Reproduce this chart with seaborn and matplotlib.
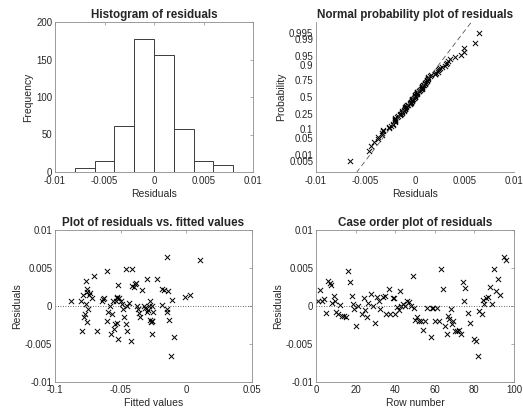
import numpy as np
import pandas as pd
import matplotlib
matplotlib.use("Agg")
import matplotlib.pyplot as plt
import seaborn as sns
from statistics import NormalDist

# ---------------- data ----------------
hist_edges = [-0.008, -0.006, -0.004, -0.002, 0.0, 0.002, 0.004, 0.006, 0.008]
hist_counts = [5, 15, 62, 177, 156, 57, 15, 10]

case_rows = [1, 2, 3, 4, 5, 6, 7, 7.5, 8, 9, 9.5, 10, 11, 12, 13, 14, 15, 16, 17, 18, 18.5, 19,
             20, 21, 23, 24, 24.5, 26, 26.5, 28, 29, 30, 31, 32, 32.5, 34, 35, 35.5, 37, 37.5,
             39, 39.5, 40, 41, 42, 42.5, 43, 44, 45, 46, 47, 48, 49, 49.5, 50, 51, 52, 53, 54,
             55, 56, 58, 58.5, 59, 60, 61, 62, 63, 64, 65, 66, 66.5, 67, 68, 68.5, 69, 70, 71,
             72, 73, 74, 74.5, 75, 77, 78, 80, 81, 82, 82.5, 84, 84.5, 85, 86, 87, 88, 89, 90,
             91, 92, 93, 95, 96]
case_resid = [0.0007, 0.0021, 0.0007, 0.0009, -0.0009, 0.0033, 0.0030, 0.0027, 0.0004, 0.0013,
              0.0006, -0.0008, -0.0011, 0.0001, -0.0013, -0.0013, -0.0014, 0.0046, 0.0032, 0.0013,
              0.0002, -0.0004, -0.0026, 0.0000, -0.0011, 0.0011, -0.0005, -0.0015, 0.0004, 0.0016,
              0.0000, -0.0022, 0.0012, 0.0007, -0.0004, 0.0012, 0.0013, -0.0010, 0.0023, -0.0010,
              0.0010, 0.0010, -0.0010, -0.0001, -0.0005, 0.0020, 0.0000, 0.0002, 0.0000, 0.0007,
              0.0005, 0.0000, 0.0040, -0.0002, -0.0018, -0.0015, -0.0020, -0.0020, -0.0032,
              -0.0020, -0.0003, -0.0041, -0.0003, -0.0003, -0.0020, -0.0003, -0.0020, 0.0049,
              0.0023, -0.0026, -0.0037, -0.0013, -0.0017, -0.0004, -0.0024, -0.0020, -0.0033,
              -0.0033, -0.0032, -0.0037, 0.0031, 0.0007, 0.0024, -0.0009, -0.0022, -0.0044,
              -0.0046, -0.0066, -0.0007, -0.0010, 0.0008, 0.0002, 0.0010, 0.0012, 0.0025, 0.0002,
              0.0049, 0.0020, 0.0035, 0.0015, 0.0065, 0.0061]

fit_x = [-0.0878, -0.0802, -0.0792, -0.0785, -0.0780, -0.0772, -0.0764, -0.0764, -0.0760,
         -0.0754, -0.0754, -0.0747, -0.0742, -0.0734, -0.0716, -0.0701, -0.0678, -0.0645,
         -0.0633, -0.0628, -0.0602, -0.0607, -0.0595, -0.0582, -0.0574, -0.0564, -0.0557,
         -0.0552, -0.0544, -0.0539, -0.0531, -0.0531, -0.0526, -0.0519, -0.0519, -0.0511,
         -0.0501, -0.0493, -0.0486, -0.0476, -0.0463, -0.0460, -0.0455, -0.0450, -0.0438,
         -0.0422, -0.0410, -0.0410, -0.0400, -0.0392, -0.0384, -0.0374, -0.0367, -0.0359,
         -0.0349, -0.0334, -0.0324, -0.0311, -0.0303, -0.0298, -0.0291, -0.0286, -0.0278,
         -0.0273, -0.0270, -0.0265, -0.0265, -0.0265, -0.0258, -0.0253, -0.0222, -0.0189,
         -0.0184, -0.0172, -0.0151, -0.0151, -0.0144, -0.0139, -0.0131, -0.0118, -0.0108,
         -0.0096, -0.0012, 0.0031, 0.0102]
fit_resid = [0.0007, 0.0006, -0.0033, 0.0014, -0.0014, -0.0011, 0.0033, 0.0002, 0.0023,
             0.0019, -0.0021, -0.0004, 0.0014, 0.0017, 0.0011, 0.0040, -0.0033, 0.0007,
             0.0009, 0.0010, 0.0046, -0.0020, -0.0008, 0.0000, -0.0037, -0.0010, 0.0007,
             -0.0030, -0.0024, 0.0007, 0.0011, -0.0023, 0.0012, 0.0028, -0.0044, 0.0010,
             0.0007, 0.0002, -0.0004, -0.0015, 0.0049, -0.0024, -0.0033, 0.0000, 0.0004,
             -0.0046, 0.0026, 0.0049, 0.0025, 0.0029, 0.0030, 0.0000, -0.0004, -0.0009,
             -0.0015, 0.0021, 0.0000, -0.0002, 0.0035, -0.0008, -0.0005, 0.0000, -0.0018,
             0.0007, -0.0021, -0.0020, -0.0037, 0.0000, -0.0020, -0.0008, 0.0036, 0.0023,
             0.0001, 0.0021, 0.0065, -0.0004, -0.0008, 0.0020, -0.0019, -0.0066, 0.0008,
             -0.0041, 0.0012, 0.0015, 0.0061]

prob_ticks = [0.005, 0.01, 0.05, 0.1, 0.25, 0.5, 0.75, 0.9, 0.95, 0.99, 0.995]
prob_labels = ["0.005", "0.01", "0.05", "0.1", "0.25", "0.5", "0.75", "0.9", "0.95", "0.99", "0.995"]
resid_ticks = [-0.01, -0.005, 0, 0.005, 0.01]
resid_labels = ["-0.01", "-0.005", "0", "0.005", "0.01"]

# ---------------- style ----------------
sns.set_theme(style="white")
plt.rcParams["font.family"] = ["Liberation Sans", "DejaVu Sans"]
plt.rcParams["xtick.direction"] = "in"
plt.rcParams["ytick.direction"] = "in"

SPINE = "#8c8c8c"
TXT = "#262626"
TICK_FS = 6.9
LAB_FS = 7.5
TITLE_FS = 8.4

fig = plt.figure(figsize=(5.23, 4.13), dpi=100)
W, H = 523, 413


def add_ax(l, t, r, b):
    return fig.add_axes([l / W, 1 - b / H, (r - l) / W, (b - t) / H])


def style(ax, box=True):
    for s in ["left", "bottom", "top", "right"]:
        ax.spines[s].set_color(SPINE)
        ax.spines[s].set_linewidth(0.6)
    if not box:
        ax.spines["top"].set_visible(False)
        ax.spines["right"].set_visible(False)
    ax.tick_params(axis="both", which="both", length=2.5, width=0.5, color=SPINE,
                   labelsize=TICK_FS, labelcolor=TXT, pad=2, top=box, right=box)


# ---- histogram ----
ax1 = add_ax(55, 22, 253, 172)
hdf = pd.DataFrame({"left": hist_edges[:-1], "count": hist_counts})
hdf["mid"] = hdf["left"] + np.diff(hist_edges) / 2
sns.histplot(x=hdf["mid"], weights=hdf["count"], bins=hist_edges, ax=ax1,
             color="white", edgecolor="#3a3a3a", linewidth=0.7, alpha=1)
ax1.set_xlim(-0.01, 0.01)
ax1.set_ylim(0, 200)
ax1.set_xticks(resid_ticks, resid_labels)
ax1.set_yticks([0, 50, 100, 150, 200])
ax1.set_xlabel("Residuals", fontsize=LAB_FS, color=TXT, labelpad=2)
ax1.set_ylabel("Frequency", fontsize=LAB_FS, color=TXT, labelpad=2)
ax1.set_title("Histogram of residuals", fontsize=TITLE_FS, fontweight="bold", pad=3)
style(ax1)
ax1.tick_params(axis="x", pad=3)

# ---- normal probability plot ----
ax2 = add_ax(316, 22, 514, 172)
nd = NormalDist()
r_sorted = np.sort(np.array(case_resid))
n = len(r_sorted)
zq = np.array([nd.inv_cdf((i - 0.5) / n) for i in range(1, n + 1)])
q25, q75 = np.quantile(r_sorted, [0.25, 0.75])
z25, z75 = nd.inv_cdf(0.25), nd.inv_cdf(0.75)
slope = (z75 - z25) / (q75 - q25)
xl = np.array([-0.01, 0.01])
yl = z25 + slope * (xl - q25)
ax2.plot(xl, yl, linestyle=(0, (6, 4)), color="#555555", linewidth=0.6)
sns.scatterplot(x=r_sorted, y=zq, ax=ax2, marker="x", color="black", s=14, linewidth=0.7)
ax2.set_xlim(-0.01, 0.01)
ax2.set_ylim(-3.03, 3.03)
ax2.set_xticks(resid_ticks, resid_labels)
ax2.set_yticks([nd.inv_cdf(p) for p in prob_ticks], prob_labels)
ax2.set_xlabel("Residuals", fontsize=LAB_FS, color=TXT, labelpad=2)
ax2.set_ylabel("Probability", fontsize=LAB_FS, color=TXT, labelpad=2)
ax2.set_title("Normal probability plot of residuals", fontsize=TITLE_FS, fontweight="bold", pad=3)
style(ax2, box=False)
ax2.tick_params(axis="x", pad=3)

# ---- residuals vs fitted ----
ax3 = add_ax(55, 230, 252, 382)
ax3.axhline(0, color="#333333", linestyle=(0, (1, 2)), linewidth=0.6)
sns.scatterplot(x=fit_x, y=fit_resid, ax=ax3, marker="x", color="black", s=14, linewidth=0.7)
ax3.set_xlim(-0.1, 0.05)
ax3.set_ylim(-0.01, 0.01)
ax3.set_xticks([-0.1, -0.05, 0, 0.05], ["-0.1", "-0.05", "0", "0.05"])
ax3.set_yticks(resid_ticks, resid_labels)
ax3.set_xlabel("Fitted values", fontsize=LAB_FS, color=TXT, labelpad=2)
ax3.set_ylabel("Residuals", fontsize=LAB_FS, color=TXT, labelpad=2)
ax3.set_title("Plot of residuals vs. fitted values", fontsize=TITLE_FS, fontweight="bold", pad=3)
style(ax3)

# ---- case order ----
ax4 = add_ax(316, 230, 514, 382)
ax4.axhline(0, color="#333333", linestyle=(0, (1, 2)), linewidth=0.6)
sns.scatterplot(x=case_rows, y=case_resid, ax=ax4, marker="x", color="black", s=14, linewidth=0.7)
ax4.set_xlim(0, 100)
ax4.set_ylim(-0.01, 0.01)
ax4.set_xticks([0, 20, 40, 60, 80, 100])
ax4.set_yticks(resid_ticks, resid_labels)
ax4.set_xlabel("Row number", fontsize=LAB_FS, color=TXT, labelpad=2)
ax4.set_ylabel("Residuals", fontsize=LAB_FS, color=TXT, labelpad=2)
ax4.set_title("Case order plot of residuals", fontsize=TITLE_FS, fontweight="bold", pad=3)
style(ax4)

fig.savefig("out.png", dpi=100, facecolor="white")
